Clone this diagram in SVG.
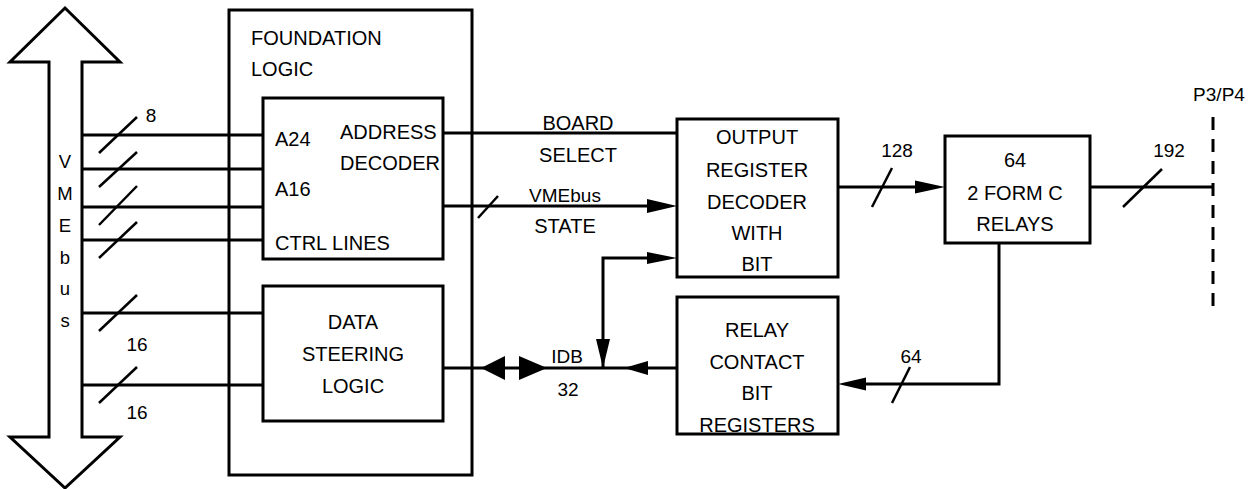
<svg xmlns="http://www.w3.org/2000/svg" width="1257" height="489" viewBox="0 0 1257 489">
<style>
.box{fill:#fff;stroke:#000;stroke-width:3}
.ln{fill:none;stroke:#000;stroke-width:3}
.sl{fill:none;stroke:#000;stroke-width:2.5}
.ah{fill:#000;stroke:none}
text{font-family:"Liberation Sans",Arial,sans-serif;font-size:20px;fill:#000}
.c{text-anchor:middle}
.n{font-size:19px}
</style>
<rect width="1257" height="489" fill="#fff"/>
<g id="vmebus">
<polygon class="box" points="65,8 120,62 82,62 82,437 120,437 65,488 10,437 49,437 49,62 10,62"/>
<text class="c" x="65" y="168" style="font-size:18.5px">V</text>
<text class="c" x="65" y="200" style="font-size:18.5px">M</text>
<text class="c" x="65" y="232" style="font-size:18.5px">E</text>
<text class="c" x="65" y="264" style="font-size:18.5px">b</text>
<text class="c" x="65" y="295" style="font-size:18.5px">u</text>
<text class="c" x="65" y="327" style="font-size:18.5px">s</text>
</g>
<g id="foundation">
<rect class="box" x="229" y="10" width="243" height="465" fill="none" style="fill:none"/>
<text x="251" y="45">FOUNDATION</text>
<text x="251" y="76">LOGIC</text>
</g>
<g id="connectors">
<line class="ln" x1="82" y1="135" x2="263" y2="135"/>
<line class="ln" x1="82" y1="169" x2="263" y2="169"/>
<line class="ln" x1="82" y1="207" x2="263" y2="207"/>
<line class="ln" x1="82" y1="240" x2="263" y2="240"/>
<line class="ln" x1="82" y1="313" x2="263" y2="313"/>
<line class="ln" x1="82" y1="385" x2="263" y2="385"/>
<line class="sl" x1="99" y1="153" x2="137" y2="117"/>
<line class="sl" x1="99" y1="187" x2="137" y2="152"/>
<line class="sl" x1="99" y1="225" x2="137" y2="186"/>
<line class="sl" x1="99" y1="258" x2="137" y2="222"/>
<line class="sl" x1="99" y1="331" x2="137" y2="295"/>
<line class="sl" x1="99" y1="403" x2="137" y2="367"/>
<text class="c n" x="151" y="122">8</text>
<text class="c n" x="137" y="351">16</text>
<text class="c n" x="137" y="419">16</text>
<line class="ln" x1="443" y1="133" x2="677" y2="133"/>
<text class="c" x="578" y="130">BOARD</text>
<text class="c" x="578" y="162">SELECT</text>
<line class="ln" x1="443" y1="206" x2="650" y2="206"/>
<polygon class="ah" points="677,206 647,199 647,213"/>
<line class="sl" x1="478" y1="218" x2="498" y2="196"/>
<text class="c n" x="565" y="202">VMEbus</text>
<text class="c" x="565" y="233">STATE</text>
<line class="ln" x1="443" y1="368" x2="677" y2="368"/>
<polygon class="ah" points="481,368 505,356 505,380"/>
<polygon class="ah" points="547,368 519,356 519,380"/>
<polygon class="ah" points="624,368 648,361 648,375"/>
<polyline class="ln" points="603,368 603,258 650,258"/>
<polygon class="ah" points="677,258 647,252 647,264"/>
<polygon class="ah" points="603,368 596,339 610,339"/>
<text class="c n" x="567" y="363">IDB</text>
<text class="c n" x="568" y="396">32</text>
<line class="ln" x1="838" y1="187" x2="918" y2="187"/>
<polygon class="ah" points="945,187 915,180.5 915,193.5"/>
<line class="sl" x1="872" y1="207" x2="892" y2="168"/>
<text class="c n" x="897" y="157">128</text>
<line class="ln" x1="1090" y1="187" x2="1213" y2="187"/>
<line class="sl" x1="1123" y1="207" x2="1162" y2="169"/>
<text class="c n" x="1169" y="157">192</text>
<line class="ln" x1="1213" y1="117" x2="1213" y2="312" stroke-dasharray="13,9"/>
<text class="c n" x="1219" y="101">P3/P4</text>
<polyline class="ln" points="999,243 999,384 862,384"/>
<polygon class="ah" points="838,384 866,377.5 866,390.5"/>
<line class="sl" x1="892" y1="403" x2="910" y2="367"/>
<text class="c n" x="911" y="363">64</text>
</g>
<g id="address-decoder">
<rect class="box" x="263" y="98" width="180" height="161"/>
<text x="275" y="146">A24</text>
<text x="275" y="196">A16</text>
<text x="275" y="250">CTRL LINES</text>
<text x="340" y="139">ADDRESS</text>
<text x="340" y="170">DECODER</text>
</g>
<g id="data-steering">
<rect class="box" x="263" y="286" width="180" height="135"/>
<text class="c" x="353" y="329">DATA</text>
<text class="c" x="353" y="361">STEERING</text>
<text class="c" x="353" y="393">LOGIC</text>
</g>
<g id="output-register">
<rect class="box" x="677" y="119" width="161" height="158"/>
<text class="c" x="757" y="144">OUTPUT</text>
<text class="c" x="757" y="177">REGISTER</text>
<text class="c" x="757" y="209">DECODER</text>
<text class="c" x="757" y="240">WITH</text>
<text class="c" x="757" y="271">BIT</text>
</g>
<g id="relay-contact">
<rect class="box" x="677" y="297" width="161" height="137"/>
<text class="c" x="757" y="337">RELAY</text>
<text class="c" x="757" y="369">CONTACT</text>
<text class="c" x="757" y="400">BIT</text>
<text class="c" x="757" y="432">REGISTERS</text>
</g>
<g id="relays">
<rect class="box" x="945" y="136" width="145" height="107"/>
<text class="c" x="1015" y="167">64</text>
<text class="c" x="1015" y="200">2 FORM C</text>
<text class="c" x="1015" y="231">RELAYS</text>
</g>
</svg>
